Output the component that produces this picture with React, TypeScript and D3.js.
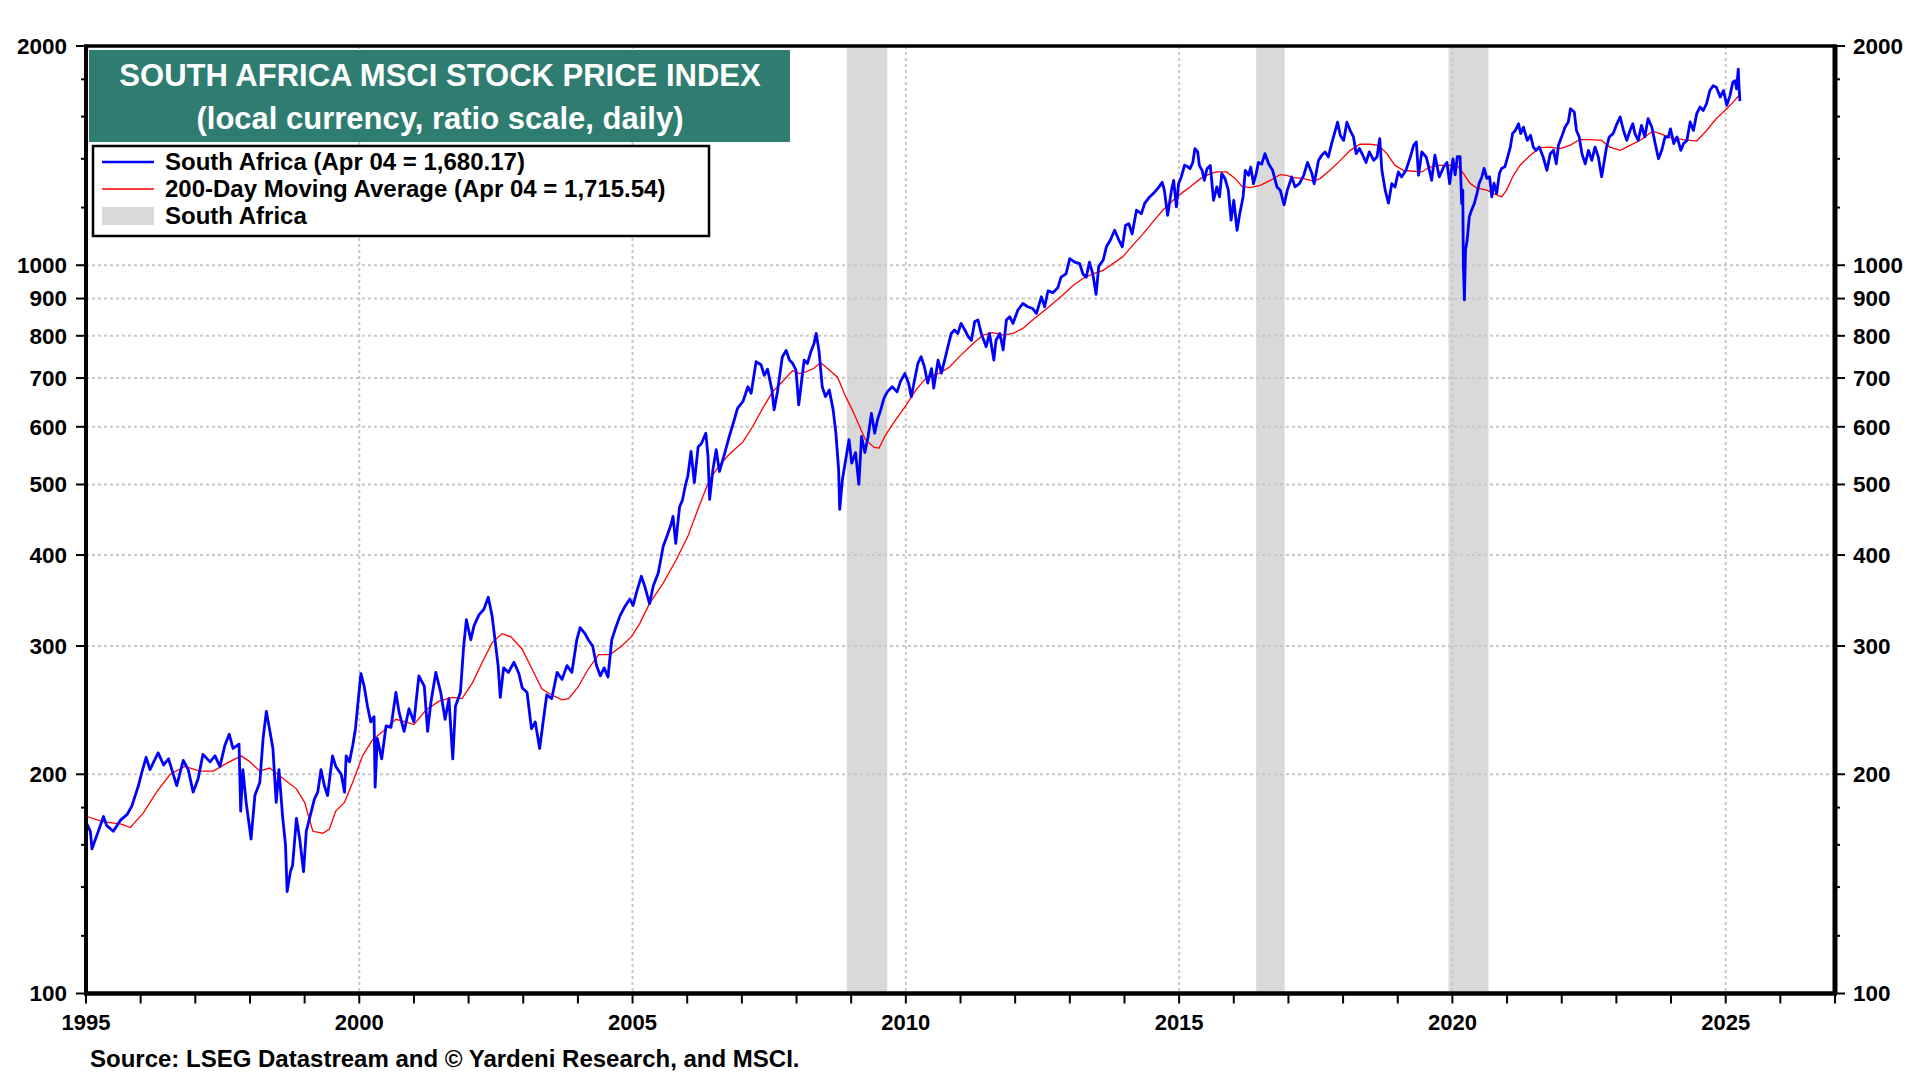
import * as d3 from 'd3';

// South Africa MSCI index (decimal year, value)
const southAfrica: [number, number][] = [
  [1995.0, 172], [1995.08, 167], [1995.11, 158], [1995.2, 165], [1995.32, 175], [1995.38, 170], [1995.5, 167],
  [1995.63, 173], [1995.75, 176], [1995.84, 181], [1995.96, 193], [1996.02, 201], [1996.1, 211], [1996.17, 203],
  [1996.32, 214], [1996.42, 206], [1996.51, 210], [1996.66, 193], [1996.78, 209], [1996.87, 203], [1996.96, 189],
  [1997.05, 197], [1997.14, 213], [1997.27, 208], [1997.36, 212], [1997.45, 205], [1997.54, 219], [1997.62, 227],
  [1997.69, 217], [1997.8, 220], [1997.83, 178], [1997.87, 203], [1997.93, 183], [1998.02, 163], [1998.09, 187],
  [1998.18, 195], [1998.24, 224], [1998.3, 244], [1998.37, 228], [1998.42, 217], [1998.48, 183], [1998.53, 203],
  [1998.6, 174], [1998.65, 160], [1998.68, 138], [1998.74, 147], [1998.78, 150], [1998.85, 174], [1998.91, 163],
  [1998.98, 147], [1999.03, 167], [1999.09, 174], [1999.18, 185], [1999.24, 189], [1999.3, 203], [1999.36, 193],
  [1999.42, 187], [1999.51, 212], [1999.57, 205], [1999.67, 200], [1999.73, 189], [1999.76, 212], [1999.82, 208],
  [1999.88, 219], [1999.93, 231], [1999.97, 248], [2000.03, 275], [2000.09, 264], [2000.15, 248], [2000.21, 236],
  [2000.27, 240], [2000.29, 192], [2000.33, 224], [2000.41, 210], [2000.49, 233], [2000.58, 232], [2000.67, 259],
  [2000.73, 243], [2000.82, 229], [2000.91, 246], [2001.0, 236], [2001.09, 273], [2001.19, 264], [2001.25, 229],
  [2001.31, 251], [2001.4, 276], [2001.49, 259], [2001.57, 238], [2001.64, 254], [2001.71, 210], [2001.76, 248],
  [2001.85, 259], [2001.91, 300], [2001.96, 326], [2002.04, 306], [2002.1, 320], [2002.19, 331], [2002.28, 337],
  [2002.36, 350], [2002.43, 330], [2002.49, 303], [2002.54, 282], [2002.58, 255], [2002.64, 280], [2002.73, 276],
  [2002.83, 285], [2002.92, 275], [2002.98, 263], [2003.07, 259], [2003.15, 231], [2003.22, 236], [2003.3, 217],
  [2003.37, 238], [2003.43, 257], [2003.52, 254], [2003.62, 276], [2003.71, 270], [2003.8, 282], [2003.89, 276],
  [2003.98, 306], [2004.04, 318], [2004.13, 312], [2004.19, 306], [2004.27, 300], [2004.34, 282], [2004.41, 273],
  [2004.48, 280], [2004.55, 272], [2004.62, 306], [2004.68, 316], [2004.77, 330], [2004.86, 340], [2004.95, 348],
  [2005.01, 341], [2005.07, 355], [2005.16, 374], [2005.22, 363], [2005.31, 343], [2005.38, 363], [2005.47, 378],
  [2005.56, 411], [2005.65, 429], [2005.71, 442], [2005.74, 452], [2005.79, 415], [2005.86, 466], [2005.91, 475],
  [2005.97, 500], [2006.01, 513], [2006.07, 555], [2006.13, 503], [2006.2, 563], [2006.26, 569], [2006.34, 588],
  [2006.38, 547], [2006.41, 477], [2006.47, 524], [2006.53, 558], [2006.59, 521], [2006.68, 550], [2006.77, 582],
  [2006.86, 613], [2006.92, 636], [2007.02, 650], [2007.11, 681], [2007.17, 667], [2007.26, 737], [2007.35, 730],
  [2007.41, 706], [2007.47, 720], [2007.55, 674], [2007.59, 633], [2007.65, 670], [2007.74, 748], [2007.81, 764],
  [2007.87, 741], [2007.93, 733], [2007.99, 718], [2008.04, 643], [2008.08, 681], [2008.14, 741], [2008.2, 733],
  [2008.26, 760], [2008.32, 781], [2008.36, 806], [2008.41, 764], [2008.47, 681], [2008.53, 660], [2008.6, 674],
  [2008.67, 633], [2008.72, 588], [2008.77, 524], [2008.79, 462], [2008.84, 508], [2008.9, 541], [2008.96, 576],
  [2009.01, 535], [2009.08, 553], [2009.14, 500], [2009.19, 582], [2009.25, 553], [2009.31, 582], [2009.37, 626],
  [2009.43, 588], [2009.48, 613], [2009.54, 633], [2009.6, 657], [2009.66, 670], [2009.75, 681], [2009.84, 670],
  [2009.9, 692], [2009.98, 710], [2010.05, 689], [2010.1, 660], [2010.16, 696], [2010.22, 733], [2010.28, 749],
  [2010.34, 725], [2010.4, 689], [2010.47, 721], [2010.51, 678], [2010.59, 741], [2010.65, 711], [2010.71, 741],
  [2010.77, 773], [2010.83, 806], [2010.89, 815], [2010.95, 806], [2011.01, 832], [2011.08, 815], [2011.14, 798],
  [2011.2, 789], [2011.26, 837], [2011.32, 841], [2011.38, 806], [2011.47, 773], [2011.53, 806], [2011.61, 741],
  [2011.65, 789], [2011.72, 806], [2011.78, 765], [2011.84, 841], [2011.9, 850], [2011.96, 832], [2012.05, 868],
  [2012.14, 886], [2012.23, 877], [2012.32, 872], [2012.39, 859], [2012.48, 905], [2012.54, 877], [2012.6, 922],
  [2012.69, 917], [2012.78, 931], [2012.84, 963], [2012.93, 973], [2013.0, 1021], [2013.09, 1010], [2013.18, 1005],
  [2013.24, 973], [2013.3, 963], [2013.36, 1010], [2013.42, 973], [2013.48, 912], [2013.53, 997], [2013.61, 1016],
  [2013.67, 1060], [2013.74, 1082], [2013.82, 1117], [2013.9, 1082], [2013.96, 1060], [2014.02, 1135], [2014.08, 1140],
  [2014.14, 1104], [2014.22, 1190], [2014.31, 1177], [2014.37, 1216], [2014.46, 1241], [2014.55, 1260], [2014.63, 1280],
  [2014.69, 1300], [2014.73, 1267], [2014.79, 1171], [2014.86, 1267], [2014.9, 1308], [2014.95, 1203], [2014.99, 1294],
  [2015.04, 1322], [2015.1, 1372], [2015.16, 1365], [2015.2, 1357], [2015.25, 1384], [2015.29, 1446], [2015.34, 1431],
  [2015.37, 1371], [2015.42, 1350], [2015.46, 1308], [2015.51, 1357], [2015.57, 1371], [2015.63, 1228], [2015.69, 1281],
  [2015.74, 1241], [2015.78, 1336], [2015.84, 1315], [2015.9, 1268], [2015.95, 1153], [2016.0, 1228], [2016.06, 1117],
  [2016.11, 1178], [2016.17, 1241], [2016.21, 1350], [2016.27, 1329], [2016.31, 1364], [2016.36, 1294], [2016.41, 1336],
  [2016.45, 1384], [2016.51, 1377], [2016.57, 1423], [2016.64, 1377], [2016.71, 1350], [2016.79, 1281], [2016.85, 1268],
  [2016.92, 1210], [2016.98, 1268], [2017.06, 1322], [2017.12, 1281], [2017.2, 1294], [2017.28, 1329], [2017.35, 1384],
  [2017.43, 1336], [2017.47, 1294], [2017.55, 1393], [2017.61, 1416], [2017.67, 1431], [2017.73, 1408], [2017.79, 1469],
  [2017.84, 1515], [2017.9, 1572], [2017.95, 1507], [2018.01, 1484], [2018.07, 1572], [2018.13, 1531], [2018.19, 1500],
  [2018.24, 1423], [2018.3, 1446], [2018.36, 1416], [2018.42, 1384], [2018.48, 1431], [2018.56, 1393], [2018.62, 1408],
  [2018.67, 1492], [2018.71, 1350], [2018.77, 1268], [2018.83, 1217], [2018.89, 1294], [2018.95, 1281], [2019.01, 1343],
  [2019.07, 1322], [2019.15, 1350], [2019.23, 1408], [2019.29, 1461], [2019.34, 1477], [2019.38, 1329], [2019.44, 1431],
  [2019.52, 1408], [2019.56, 1371], [2019.62, 1308], [2019.68, 1416], [2019.76, 1322], [2019.84, 1364], [2019.9, 1384],
  [2019.95, 1294], [2020.01, 1400], [2020.05, 1331], [2020.09, 1410], [2020.14, 1410], [2020.17, 1215], [2020.19, 1268],
  [2020.2, 1000], [2020.22, 896], [2020.24, 1049], [2020.27, 1083], [2020.31, 1166], [2020.35, 1190], [2020.4, 1215],
  [2020.45, 1255], [2020.49, 1296], [2020.54, 1323], [2020.58, 1358], [2020.63, 1316], [2020.68, 1323], [2020.72, 1241],
  [2020.76, 1296], [2020.81, 1255], [2020.86, 1337], [2020.9, 1358], [2020.96, 1365], [2021.01, 1408], [2021.06, 1453],
  [2021.1, 1516], [2021.15, 1531], [2021.21, 1564], [2021.25, 1516], [2021.3, 1547], [2021.37, 1484], [2021.43, 1508],
  [2021.48, 1453], [2021.53, 1438], [2021.59, 1453], [2021.66, 1408], [2021.73, 1350], [2021.79, 1423], [2021.85, 1438],
  [2021.9, 1378], [2021.94, 1461], [2022.02, 1516], [2022.06, 1547], [2022.12, 1573], [2022.16, 1640], [2022.23, 1623],
  [2022.27, 1531], [2022.32, 1500], [2022.37, 1423], [2022.43, 1378], [2022.49, 1438], [2022.55, 1393], [2022.61, 1453],
  [2022.67, 1408], [2022.73, 1323], [2022.77, 1378], [2022.82, 1453], [2022.87, 1500], [2022.94, 1516], [2023.01, 1564],
  [2023.07, 1598], [2023.13, 1531], [2023.19, 1484], [2023.25, 1531], [2023.3, 1564], [2023.34, 1516], [2023.4, 1484],
  [2023.46, 1556], [2023.52, 1500], [2023.58, 1590], [2023.65, 1547], [2023.71, 1469], [2023.77, 1400], [2023.83, 1438],
  [2023.89, 1500], [2023.95, 1500], [2023.99, 1539], [2024.05, 1469], [2024.11, 1500], [2024.18, 1438], [2024.23, 1469],
  [2024.29, 1484], [2024.35, 1573], [2024.41, 1531], [2024.47, 1615], [2024.53, 1649], [2024.59, 1631], [2024.65, 1667],
  [2024.71, 1737], [2024.77, 1764], [2024.83, 1755], [2024.9, 1702], [2024.96, 1737], [2025.02, 1658], [2025.08, 1711],
  [2025.13, 1783], [2025.17, 1792], [2025.2, 1746], [2025.23, 1859], [2025.24, 1783], [2025.26, 1680.17],
];

// 200-day moving average
const movingAvg: [number, number][] = [
  [1995.02, 175], [1995.32, 172], [1995.63, 171], [1995.81, 169], [1996.05, 177], [1996.29, 189], [1996.54, 200],
  [1996.81, 205], [1997.08, 202], [1997.33, 202], [1997.57, 207], [1997.84, 212], [1998.0, 208], [1998.18, 202],
  [1998.36, 204], [1998.54, 199], [1998.85, 191], [1999.0, 183], [1999.15, 167], [1999.33, 166], [1999.45, 168],
  [1999.57, 178], [1999.73, 183], [1999.88, 195], [2000.06, 212], [2000.24, 223], [2000.43, 229], [2000.67, 238],
  [2000.85, 236], [2001.0, 234], [2001.22, 245], [2001.46, 252], [2001.7, 255], [2001.88, 254], [2002.07, 267],
  [2002.25, 285], [2002.43, 303], [2002.61, 312], [2002.77, 309], [2002.98, 297], [2003.16, 279], [2003.34, 262],
  [2003.52, 257], [2003.71, 253], [2003.83, 254], [2004.01, 264], [2004.19, 279], [2004.38, 292], [2004.59, 292],
  [2004.8, 300], [2004.98, 309], [2005.13, 322], [2005.31, 343], [2005.56, 366], [2005.8, 394], [2006.01, 424],
  [2006.17, 457], [2006.29, 482], [2006.41, 508], [2006.59, 531], [2006.77, 550], [2007.02, 572], [2007.2, 601],
  [2007.38, 636], [2007.56, 670], [2007.74, 692], [2007.93, 717], [2008.05, 710], [2008.17, 714], [2008.32, 722],
  [2008.44, 735], [2008.6, 718], [2008.75, 702], [2008.9, 660], [2009.02, 633], [2009.14, 604], [2009.26, 576],
  [2009.42, 562], [2009.51, 561], [2009.63, 585], [2009.81, 613], [2009.99, 640], [2010.19, 675], [2010.37, 700],
  [2010.62, 711], [2010.8, 725], [2010.98, 749], [2011.23, 781], [2011.41, 802], [2011.59, 808], [2011.78, 802],
  [2011.96, 806], [2012.14, 819], [2012.32, 841], [2012.51, 864], [2012.69, 886], [2012.87, 910], [2013.06, 938],
  [2013.24, 959], [2013.42, 973], [2013.61, 984], [2013.79, 1005], [2013.97, 1027], [2014.15, 1065], [2014.34, 1104],
  [2014.52, 1147], [2014.7, 1190], [2014.89, 1228], [2015.07, 1260], [2015.2, 1281], [2015.39, 1315], [2015.57, 1336],
  [2015.69, 1343], [2015.87, 1343], [2016.03, 1315], [2016.15, 1283], [2016.3, 1278], [2016.48, 1287], [2016.67, 1308],
  [2016.85, 1332], [2016.97, 1329], [2017.09, 1319], [2017.28, 1315], [2017.46, 1305], [2017.58, 1315], [2017.76, 1350],
  [2017.95, 1393], [2018.13, 1438], [2018.31, 1466], [2018.49, 1466], [2018.65, 1461], [2018.8, 1423], [2018.95, 1371],
  [2019.1, 1350], [2019.29, 1346], [2019.44, 1343], [2019.59, 1364], [2019.77, 1371], [2019.96, 1372], [2020.11, 1365],
  [2020.2, 1337], [2020.32, 1296], [2020.45, 1276], [2020.63, 1268], [2020.78, 1252], [2020.9, 1241], [2020.99, 1268],
  [2021.12, 1330], [2021.24, 1372], [2021.42, 1415], [2021.6, 1450], [2021.79, 1453], [2021.97, 1446], [2022.15, 1461],
  [2022.33, 1488], [2022.52, 1488], [2022.73, 1484], [2022.88, 1453], [2023.07, 1438], [2023.25, 1461], [2023.46, 1488],
  [2023.66, 1528], [2023.8, 1516], [2023.98, 1497], [2024.23, 1488], [2024.47, 1481], [2024.65, 1531], [2024.83, 1590],
  [2025.02, 1640], [2025.14, 1676], [2025.26, 1715.54],
];

// shaded periods (start, end)
const recessions: [number, number][] = [[2008.92, 2009.66], [2016.41, 2016.93], [2019.93, 2020.66]];

const yLabelTicks = [100, 200, 300, 400, 500, 600, 700, 800, 900, 1000, 2000];
const yMinorTicks = [120, 140, 160, 180, 1200, 1400, 1600, 1800];
const yGridValues = [200, 300, 400, 500, 600, 700, 800, 900, 1000];
const yearLabels = [1995, 2000, 2005, 2010, 2015, 2020, 2025];
const gridYears = [2000, 2005, 2010, 2015, 2020, 2025];

const legendItems = [
  { label: 'South Africa (Apr 04 = 1,680.17)', kind: 'blue' },
  { label: '200-Day Moving Average (Apr 04 = 1,715.54)', kind: 'red' },
  { label: 'South Africa', kind: 'band' },
];

const FONT = '"Liberation Sans", Arial, sans-serif';

export default function App() {
  const left = 86, right = 1835, top = 46, bottom = 993.5;
  const x = d3.scaleLinear().domain([1995, 2027]).range([left, right]);
  const y = d3.scaleLog().domain([100, 2000]).range([bottom, top]);
  const line = d3.line<[number, number]>().x(d => x(d[0])).y(d => y(d[1]));
  const allYears = d3.range(1995, 2028);

  return (
    <div style={{ position: 'absolute', left: 0, top: 0 }}>
      <svg width={1920} height={1080} style={{ display: 'block', background: '#fff' }} fontFamily={FONT}>
        {/* shaded bands */}
        {recessions.map(([a, b], i) => (
          <rect key={i} x={x(a)} y={top} width={x(b) - x(a)} height={bottom - top} fill="#D9D9D9" />
        ))}

        {/* grid */}
        {yGridValues.map(v => (
          <line key={v} x1={left} x2={right} y1={y(v)} y2={y(v)} stroke="#C8C8C8" strokeWidth={2} strokeDasharray="3,3" />
        ))}
        {gridYears.map(yr => (
          <line key={yr} x1={x(yr)} x2={x(yr)} y1={top} y2={bottom} stroke="#C8C8C8" strokeWidth={2} strokeDasharray="3,3" />
        ))}

        {/* series */}
        <path d={line(movingAvg) || ''} fill="none" stroke="#FF0000" strokeWidth={1.3} />
        <path d={line(southAfrica) || ''} fill="none" stroke="#0000FF" strokeWidth={2.8} strokeLinejoin="round" />

        {/* frame */}
        <line x1={left - 2} x2={right + 2} y1={top} y2={top} stroke="#000" strokeWidth={3.5} />
        <line x1={left - 2} x2={right + 2} y1={bottom} y2={bottom} stroke="#000" strokeWidth={4.5} />
        <line x1={left} x2={left} y1={top} y2={bottom} stroke="#000" strokeWidth={4} />
        <line x1={right} x2={right} y1={top} y2={bottom} stroke="#000" strokeWidth={5} />

        {/* y ticks and labels */}
        {yLabelTicks.map(v => (
          <g key={v}>
            <line x1={left - 10} x2={left} y1={y(v)} y2={y(v)} stroke="#000" strokeWidth={2} />
            <line x1={right} x2={right + 10} y1={y(v)} y2={y(v)} stroke="#000" strokeWidth={2} />
            <text x={left - 19} y={y(v)} dy="0.35em" textAnchor="end" fontSize={22.5} fontWeight="bold">{v}</text>
            <text x={right + 18} y={y(v)} dy="0.35em" textAnchor="start" fontSize={22.5} fontWeight="bold">{v}</text>
          </g>
        ))}
        {yMinorTicks.map(v => (
          <g key={v}>
            <line x1={left - 5} x2={left} y1={y(v)} y2={y(v)} stroke="#000" strokeWidth={2} />
            <line x1={right} x2={right + 5} y1={y(v)} y2={y(v)} stroke="#000" strokeWidth={2} />
          </g>
        ))}

        {/* x ticks and labels */}
        {allYears.map(yr => (
          <line key={yr} x1={x(yr)} x2={x(yr)} y1={bottom} y2={bottom + 10} stroke="#000" strokeWidth={2} />
        ))}
        {yearLabels.map(yr => (
          <text key={yr} x={x(yr)} y={1022} dy="0.35em" textAnchor="middle" fontSize={22} fontWeight="bold">{yr}</text>
        ))}

        {/* title box */}
        <rect x={89} y={50} width={701} height={92} fill="#2E7D70" />
        <text x={440} y={75} dy="0.35em" textAnchor="middle" fontSize={31} fontWeight="bold" fill="#fff">
          SOUTH AFRICA MSCI STOCK PRICE INDEX
        </text>
        <text x={440} y={118} dy="0.35em" textAnchor="middle" fontSize={31} fontWeight="bold" fill="#fff">
          (local currency, ratio scale, daily)
        </text>

        {/* legend */}
        <rect x={93} y={146} width={616} height={90} fill="#fff" stroke="#000" strokeWidth={2.5} />
        {legendItems.map((it, i) => {
          const cy = 162 + i * 27;
          return (
            <g key={i}>
              {it.kind === 'blue' && <line x1={102} x2={154} y1={cy} y2={cy} stroke="#0000FF" strokeWidth={2.5} />}
              {it.kind === 'red' && <line x1={102} x2={154} y1={cy} y2={cy} stroke="#FF0000" strokeWidth={1.3} />}
              {it.kind === 'band' && <rect x={102} y={cy - 9} width={52} height={18} fill="#D9D9D9" />}
              <text x={165} y={cy} dy="0.35em" fontSize={24} fontWeight="bold">{it.label}</text>
            </g>
          );
        })}

        {/* source */}
        <text x={90} y={1067} fontSize={24} fontWeight="bold">
          Source: LSEG Datastream and © Yardeni Research, and MSCI.
        </text>
      </svg>
    </div>
  );
}
